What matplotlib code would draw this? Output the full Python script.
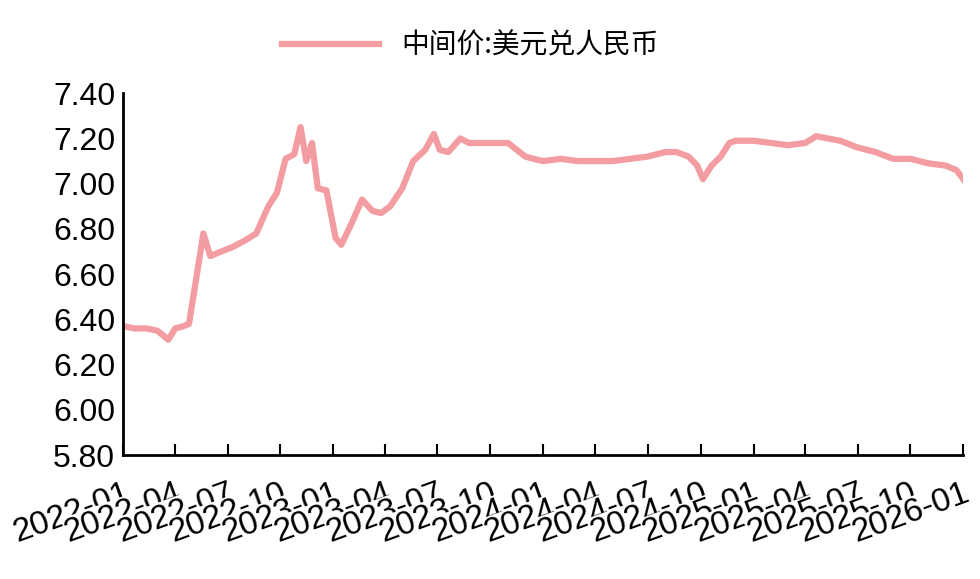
import matplotlib.pyplot as plt
import matplotlib.dates as mdates
import numpy as np
import pandas as pd

plt.rcParams['font.family'] = ['Noto Sans CJK SC', 'DejaVu Sans']

# 中间价:美元兑人民币 (approx.)
dates = pd.to_datetime([
    '2022-01-01', '2022-01-20', '2022-02-10', '2022-03-01', '2022-03-20', '2022-04-01',
    '2022-04-15', '2022-04-25', '2022-05-10', '2022-05-20', '2022-06-01', '2022-06-20',
    '2022-07-10', '2022-08-01', '2022-08-20', '2022-09-10', '2022-09-25', '2022-10-10',
    '2022-10-25', '2022-11-05', '2022-11-15', '2022-11-25', '2022-12-05', '2022-12-20',
    '2023-01-05', '2023-01-15', '2023-02-01', '2023-02-20', '2023-03-10', '2023-03-25',
    '2023-04-10', '2023-05-01', '2023-05-20', '2023-06-10', '2023-06-25', '2023-07-05',
    '2023-07-20', '2023-08-10', '2023-08-25', '2023-09-10', '2023-10-01', '2023-11-01',
    '2023-12-01', '2023-12-15', '2024-01-01', '2024-02-01', '2024-03-01', '2024-04-01',
    '2024-05-01', '2024-06-01', '2024-07-01', '2024-08-01', '2024-08-20', '2024-09-10',
    '2024-09-25', '2024-10-05', '2024-10-20', '2024-11-05', '2024-11-20', '2024-12-01',
    '2025-01-01', '2025-02-01', '2025-03-01', '2025-04-01', '2025-04-20', '2025-05-10',
    '2025-06-01', '2025-07-01', '2025-08-01', '2025-09-01', '2025-10-01', '2025-11-01',
    '2025-12-01', '2025-12-20', '2026-01-01'])
values = [
    6.37, 6.36, 6.36, 6.35, 6.31, 6.36,
    6.37, 6.38, 6.62, 6.78, 6.68, 6.70,
    6.72, 6.75, 6.78, 6.90, 6.96, 7.11,
    7.13, 7.25, 7.10, 7.18, 6.98, 6.97,
    6.76, 6.73, 6.82, 6.93, 6.88, 6.87,
    6.90, 6.98, 7.10, 7.15, 7.22, 7.15,
    7.14, 7.20, 7.18, 7.18, 7.18, 7.18,
    7.12, 7.11, 7.10, 7.11, 7.10, 7.10,
    7.10, 7.11, 7.12, 7.14, 7.14, 7.12,
    7.08, 7.02, 7.08, 7.12, 7.18, 7.19,
    7.19, 7.18, 7.17, 7.18, 7.21, 7.20,
    7.19, 7.16, 7.14, 7.11, 7.11, 7.09,
    7.08, 7.06, 7.02]

ticks = pd.date_range('2022-01-01', '2026-01-01', freq='3MS')
tick_labels = [d.strftime('%Y-%m') for d in ticks]

fig = plt.figure(figsize=(9.8, 5.79), dpi=100)
ax = fig.add_axes([0.126, 0.214, 0.857, 0.625])
ax.plot(dates, values, color='#f39ca1', lw=4.5, solid_joinstyle='round', label='中间价:美元兑人民币')

ax.set_xlim(ticks[0], ticks[-1])
ax.set_ylim(5.8, 7.4)
ax.set_yticks(np.arange(5.8, 7.41, 0.2))
ax.set_yticklabels([f'{v:.2f}' for v in np.arange(5.8, 7.41, 0.2)], fontsize=23, family='Liberation Sans')
ax.set_xticks(ticks)
ax.set_xticklabels(tick_labels, fontsize=24, family='Liberation Sans', rotation=20,
                   ha='right', rotation_mode='anchor',
                   bbox=dict(facecolor='white', edgecolor='none', pad=0))
ax.tick_params(axis='x', direction='in', length=8, width=1.5, pad=16)
ax.tick_params(axis='y', direction='out', length=0, width=1.5, pad=6)
for s in ['top', 'right']:
    ax.spines[s].set_visible(False)
for s in ['left', 'bottom']:
    ax.spines[s].set_linewidth(2)

fig.legend(loc='upper center', bbox_to_anchor=(0.48, 0.99), frameon=False,
           fontsize=20, handlelength=3.5)
fig.savefig('out.png', dpi=100, facecolor='white')
